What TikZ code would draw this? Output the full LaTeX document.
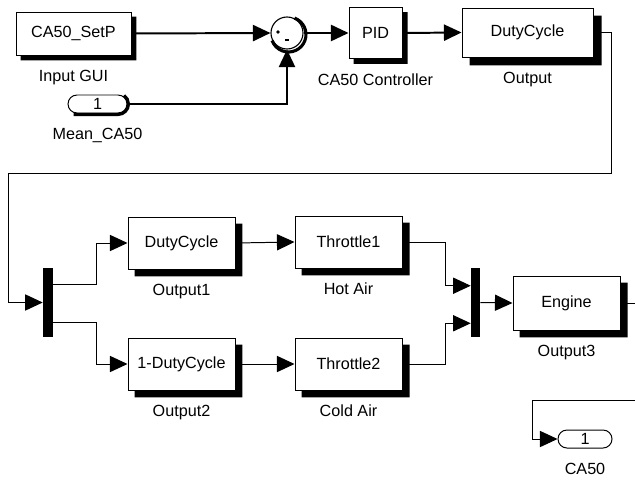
\documentclass[tikz,border=0pt]{standalone}
\usepackage{fontspec}
\setmainfont{Liberation Sans}
\usetikzlibrary{arrows.meta,positioning,calc,shapes.misc}
\def\px{0.025cm}
\tikzset{
  blk/.style={draw,line width=0.7pt,fill=white,inner sep=0pt,
              minimum width=107*\px,minimum height=52*\px},
  port/.style={rounded rectangle,draw,line width=0.7pt,fill=white,
              inner sep=0pt,minimum height=18*\px},
  bar/.style={fill=black,inner sep=0pt,minimum height=69*\px},
  sumc/.style={circle,draw,line width=0.8pt,fill=white,
              inner sep=0pt,minimum size=32*\px},
  lbl/.style={inner sep=0pt,text height=8.5pt,text depth=2.5pt},
  wire/.style={-{Triangle[length=12.5pt,width=11.5pt]},line width=0.7pt},
  bus/.style={wire,line width=1.4pt},
  rim/.style={line width=2.2pt},
}
\begin{document}
\begin{tikzpicture}[x=\px,y=\px,label distance=10pt,
    font=\fontsize{11.5}{13}\selectfont]
  \useasboundingbox (0,0) rectangle (635,-479);
  % set point and controller
  \node[blk,minimum width=115*\px,minimum height=43*\px,
        label={[lbl]below:Input GUI}] (setp) at (73.5,-33.5) {CA50\_SetP};
  \node[port,minimum width=59*\px,
        label={[lbl]below:Mean\_CA50}] (mean) at (97.5,-104) {1};
  \node[sumc] (sum) at (287,-33) {};
  \fill ($(sum)+(-9,1)$) circle (1.3pt);
  \draw[line width=1pt] ($(sum)+(-2,-7)$) -- ++(4,0);
  \node[blk,minimum width=53*\px,minimum height=51*\px,
        label={[lbl]below:CA50 Controller}] (pid) at (375.5,-33) {PID};
  \node[blk,minimum width=131*\px,minimum height=49*\px,
        label={[lbl]below:Output}] (duty) at (527.5,-32.5) {DutyCycle};
  \draw[bus] (setp.east) -- (sum.west);
  \draw[bus] (mean.east) -| (sum.south);
  \draw[bus] (sum.east) -- (pid.west);
  \draw[bus] (pid.east) -- (duty.west);
  % feedback down to the split
  \coordinate (fbR) at (611,-173);
  \coordinate (fbL) at (8,-173);
  \node[bar,minimum width=10*\px] (demux) at (48,-302.5) {};
  \draw[wire] (duty.east) -| (fbR) -- (fbL) |- (demux.west);
  % hot and cold branches
  \node[blk,label={[lbl]below:Output1}] (out1) at (181.5,-243) {DutyCycle};
  \node[blk,label={[lbl]below:Output2}] (out2) at (181.5,-364) {1-DutyCycle};
  \node[blk,label={[lbl]below:Hot Air}] (thr1) at (348.5,-242) {Throttle1};
  \node[blk,label={[lbl]below:Cold Air}] (thr2) at (348.5,-364) {Throttle2};
  \draw[wire] (demux.north east) ++(0,-17) -- ++(43,0) |- (out1.west);
  \draw[wire] (demux.south east) ++(0,15) -- ++(43,0) |- (out2.west);
  \draw[wire] (out1.east) -- (thr1.west);
  \draw[wire] (out2.east) -- (thr2.west);
  % merge into the engine
  \node[bar,minimum width=9*\px] (mux) at (475.5,-302.5) {};
  \node[blk,minimum height=54*\px,
        label={[lbl]below:Output3}] (engine) at (566.5,-303) {Engine};
  \draw[wire] (thr1.east) -- ++(43,0) |- ($(mux.north west)+(0,-18)$);
  \draw[wire] (thr2.east) -- ++(43,0) |- ($(mux.south west)+(0,14)$);
  \draw[wire] (mux.east) -- (engine.west);
  \coordinate (engR) at (635,-303);
  \draw[line width=0.7pt] (engine.east) -- (engR);
  % measured output
  \node[port,minimum width=54*\px,
        label={[lbl]below:CA50}] (ca50) at (585,-439) {1};
  \coordinate (caR) at (635,-400);
  \draw[wire] (caR) -- ++(-103,0) |- (ca50.west);
  % shadows on the right and bottom edges
  \foreach \b/\s in {setp/5,pid/5,duty/8,out1/7,out2/7,thr1/7,thr2/7,engine/7}
    \fill ([xshift=\s*\px]\b.south west) -- ([shift={(\s,-\s)}]\b.south west)
      -- ([shift={(\s,-\s)}]\b.south east) -- ([shift={(\s,-\s)}]\b.north east)
      -- ([yshift=-\s*\px]\b.north east) -- (\b.south east) -- cycle;
  \draw[rim] ($(sum)+(1.5,-1.5)$) ++(70:17.5)
     arc[start angle=70,end angle=-160,radius=17.5*\px];
  \draw[rim] ($(mean)+(-24,-10.5)$) -- ($(mean)+(20.5,-10.5)$)
     arc[start angle=-90,end angle=55,radius=10.5*\px];
\end{tikzpicture}
\end{document}
